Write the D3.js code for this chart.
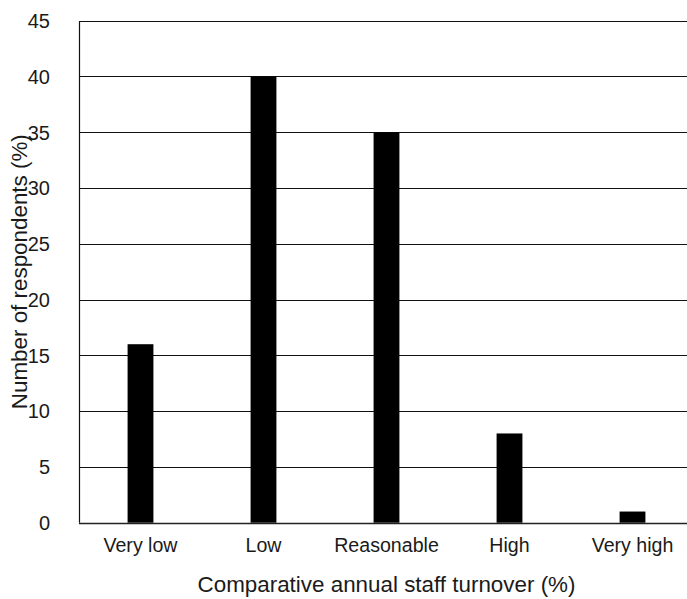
<!DOCTYPE html>
<html><head><meta charset="utf-8">
<script src="https://cdn.jsdelivr.net/npm/d3@7"></script>
<style>body{margin:0;background:#fff}svg{display:block}text{font-family:Arial,"Liberation Sans",sans-serif;fill:#1a1a1a}</style>
</head><body>
<svg id="c" width="687" height="599"></svg>
<script>
const categories = ["Very low","Low","Reasonable","High","Very high"];
const values = [16,40,35,8,1];
const yTicks = [0,5,10,15,20,25,30,35,40,45];
const xTitle = "Comparative annual staff turnover (%)";
const yTitle = "Number of respondents (%)";

const svg = d3.select("#c");
const L = 79, R = 694, T = 20.7, B = 522.7;
const x = d3.scaleBand().domain(categories).range([L, R]).paddingInner(0.79).paddingOuter(0.395);
const y = d3.scaleLinear().domain([0,45]).range([B, T]);

// gridlines
svg.append("g").selectAll("line").data(yTicks).join("line")
  .attr("x1", L).attr("x2", R)
  .attr("y1", d => Math.round(y(d)) + 0.5).attr("y2", d => Math.round(y(d)) + 0.5)
  .attr("stroke", d => d === 0 ? "#222" : "#111").attr("stroke-width", d => d === 0 ? 1.6 : 1);

// bars
svg.append("g").selectAll("rect").data(values).join("rect")
  .attr("x", (d,i) => x(categories[i])).attr("width", x.bandwidth())
  .attr("y", d => y(d)).attr("height", d => y(0) - y(d))
  .attr("fill", "#000");

// left axis line
svg.append("line").attr("x1", L + 0.5).attr("x2", L + 0.5).attr("y1", Math.round(T)+0.5).attr("y2", B)
  .attr("stroke", "#111").attr("stroke-width", 1.2);

// y tick labels
const yAxis = d3.axisLeft(y).tickValues(yTicks).tickSize(0).tickPadding(29);
const gy = svg.append("g").attr("transform", `translate(${L},0)`).call(yAxis);
gy.select(".domain").remove();
gy.selectAll("text").style("font-size", "20px").attr("dy", "0.34em").attr("fill", "#1a1a1a")
  .style("font-family", "Arial, 'Liberation Sans', sans-serif");

// x tick labels
const xAxis = d3.axisBottom(x).tickSize(0).tickPadding(0);
const gx = svg.append("g").attr("transform", `translate(0,${B})`).call(xAxis);
gx.select(".domain").remove();
gx.selectAll("text").style("font-size", "19.6px").attr("dy", null).attr("y", 29.5).attr("fill", "#1a1a1a")
  .style("font-family", "Arial, 'Liberation Sans', sans-serif");

// titles
svg.append("text").attr("x", (L + R) / 2).attr("y", 592).attr("text-anchor", "middle")
  .style("font-size", "22.4px").text(xTitle);
svg.append("text").attr("transform", `translate(27,${(T + B) / 2}) rotate(-90)`).attr("text-anchor", "middle")
  .style("font-size", "22.4px").text(yTitle);
</script>
</body></html>
